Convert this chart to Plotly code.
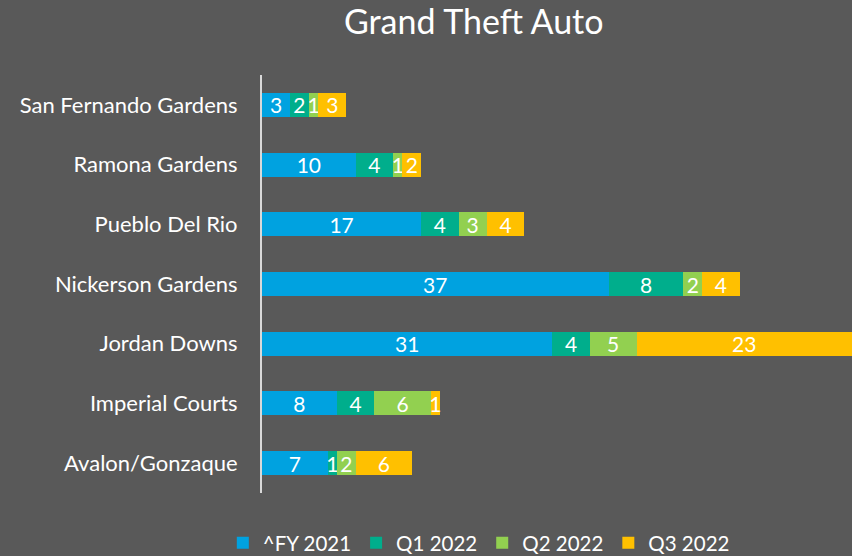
import plotly.graph_objects as go

categories = ["San Fernando Gardens", "Ramona Gardens", "Pueblo Del Rio",
              "Nickerson Gardens", "Jordan Downs", "Imperial Courts", "Avalon/Gonzaque"]
series_names = ["^FY 2021", "Q1 2022", "Q2 2022", "Q3 2022"]
fy2021 = [3, 10, 17, 37, 31, 8, 7]
q1_2022 = [2, 4, 4, 8, 4, 4, 1]
q2_2022 = [1, 1, 3, 2, 5, 6, 2]
q3_2022 = [3, 2, 4, 4, 23, 1, 6]
colors = ["#00A2E0", "#00AE8C", "#92D050", "#FFC000"]

BG = "#595959"
FONT = "Lato, 'Open Sans', sans-serif"

fig = go.Figure()
for name, vals, col in zip(series_names, [fy2021, q1_2022, q2_2022, q3_2022], colors):
    fig.add_trace(go.Bar(
        y=categories, x=vals, name=name, orientation="h",
        marker=dict(color=col, line=dict(width=0)),
        text=[str(v) for v in vals], textposition="inside",
        insidetextanchor="middle", textangle=0, constraintext="none",
        textfont=dict(color="white", size=21, family=FONT),
        width=0.4, cliponaxis=False,
    ))

fig.update_layout(
    barmode="stack",
    width=852, height=556,
    paper_bgcolor=BG, plot_bgcolor=BG,
    margin=dict(l=262, r=0, t=75, b=63, autoexpand=False),
    title=dict(text="Grand Theft Auto", x=0.556, xanchor="center", y=0.96, yanchor="middle",
               font=dict(color="white", size=34, family=FONT)),
    font=dict(family=FONT, color="white"),
    xaxis=dict(range=[0, 63], showgrid=False, zeroline=False, showticklabels=False,
               showline=False, fixedrange=True),
    yaxis=dict(autorange="reversed", showgrid=False, zeroline=False, showline=True,
               linecolor="#D9D9D9", linewidth=2, ticks="", ticklabelstandoff=18,
               tickfont=dict(color="white", size=22, family=FONT)),
    legend=dict(orientation="h", xref="container", yref="container",
                x=0.562, xanchor="center", y=0.0234, yanchor="middle",
                font=dict(color="white", size=20.5, family=FONT), bgcolor="rgba(0,0,0,0)",
                itemwidth=30, traceorder="normal"),
    showlegend=True,
)

fig.write_html("out.html")
